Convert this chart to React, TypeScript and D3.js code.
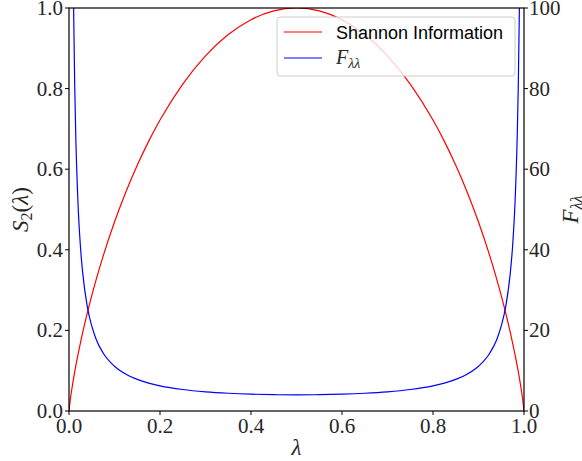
import React from "react";
import * as d3 from "d3";

// Sampled values of the binary entropy S2(λ) and the Fisher information F_λλ
const lambdas = [
  0, 0.0025, 0.005, 0.0075, 0.01, 0.0125, 0.015, 0.02, 0.025, 0.03, 0.04, 0.05, 0.06, 0.075,
  0.1, 0.125, 0.15, 0.175, 0.2, 0.25, 0.3, 0.35, 0.4, 0.45, 0.5,
  0.55, 0.6, 0.65, 0.7, 0.75, 0.8, 0.825, 0.85, 0.875, 0.9, 0.925, 0.94, 0.95, 0.96, 0.97,
  0.975, 0.98, 0.985, 0.9875, 0.99, 0.9925, 0.995, 0.9975, 1,
];
const shannon = [
  0, 0.0252, 0.0454, 0.0637, 0.0808, 0.0969, 0.1124, 0.1414, 0.1687, 0.1944, 0.2423, 0.2864, 0.3274, 0.3843,
  0.469, 0.5436, 0.6098, 0.669, 0.7219, 0.8113, 0.8813, 0.9341, 0.971, 0.9928, 1.0,
  0.9928, 0.971, 0.9341, 0.8813, 0.8113, 0.7219, 0.669, 0.6098, 0.5436, 0.469, 0.3843, 0.3274, 0.2864, 0.2423, 0.1944,
  0.1687, 0.1414, 0.1124, 0.0969, 0.0808, 0.0637, 0.0454, 0.0252, 0,
];
const fisher: (number | null)[] = [
  null, 401.0, 201.0, 134.3, 101.0, 81.0, 67.7, 51.0, 41.0, 34.4, 26.0, 21.1, 17.7, 14.4,
  11.1, 9.14, 7.84, 6.93, 6.25, 5.33, 4.76, 4.4, 4.17, 4.04, 4.0,
  4.04, 4.17, 4.4, 4.76, 5.33, 6.25, 6.93, 7.84, 9.14, 11.1, 14.4, 17.7, 21.1, 26.0, 34.4,
  41.0, 51.0, 67.7, 81.0, 101.0, 134.3, 201.0, 401.0, null,
];
const xTicks = [0, 0.2, 0.4, 0.6, 0.8, 1.0];
const leftTicks = [0, 0.2, 0.4, 0.6, 0.8, 1.0];
const rightTicks = [0, 20, 40, 60, 80, 100];

const W = 582;
const H = 461;
const M = { left: 69, right: 524, top: 8, bottom: 411 };
const SERIF = "'Liberation Serif', 'DejaVu Serif', serif";
const SANS = "'Liberation Sans', Arial, sans-serif";
const TXT = "#262626";

export default function App() {
  const x = d3.scaleLinear().domain([0, 1]).range([M.left, M.right]);
  const yL = d3.scaleLinear().domain([0, 1]).range([M.bottom, M.top]);
  const yR = d3.scaleLinear().domain([0, 100]).range([M.bottom, M.top]);

  const idx = lambdas.map((_, i) => i);
  const sLine = d3
    .line<number>()
    .x((i) => x(lambdas[i]))
    .y((i) => yL(shannon[i]))
    .curve(d3.curveMonotoneX)(idx);
  const fLine = d3
    .line<number>()
    .defined((i) => fisher[i] != null)
    .x((i) => x(lambdas[i]))
    .y((i) => yR(fisher[i] as number))
    .curve(d3.curveMonotoneX)(idx);

  const fmt = d3.format(".1f");

  return (
    <svg width={W} height={H} style={{ position: "absolute", left: 0, top: 0 }}>
      <defs>
        <clipPath id="plot-clip">
          <rect x={M.left} y={M.top} width={M.right - M.left} height={M.bottom - M.top} />
        </clipPath>
      </defs>
      <rect width={W} height={H} fill="#fff" />

      <g clipPath="url(#plot-clip)" fill="none" strokeWidth={1.2}>
        <path d={sLine ?? ""} stroke="#ff0000" />
        <path d={fLine ?? ""} stroke="#0000ff" />
      </g>

      {/* frame */}
      <rect
        x={M.left}
        y={M.top}
        width={M.right - M.left}
        height={M.bottom - M.top}
        fill="none"
        stroke="#000"
        strokeWidth={1.2}
      />

      {/* bottom axis */}
      {xTicks.map((t) => (
        <g key={"x" + t}>
          <line x1={x(t)} x2={x(t)} y1={M.bottom} y2={M.bottom + 4} stroke="#000" />
          <text
            x={x(t)}
            y={M.bottom + 22}
            textAnchor="middle"
            fontFamily={SERIF}
            fontSize={21}
            fill={TXT}
          >
            {fmt(t)}
          </text>
        </g>
      ))}

      {/* left axis */}
      {leftTicks.map((t) => (
        <g key={"l" + t}>
          <line x1={M.left - 4} x2={M.left} y1={yL(t)} y2={yL(t)} stroke="#000" />
          <text
            x={M.left - 6}
            y={yL(t) + 7}
            textAnchor="end"
            fontFamily={SERIF}
            fontSize={21}
            fill={TXT}
          >
            {fmt(t)}
          </text>
        </g>
      ))}

      {/* right axis */}
      {rightTicks.map((t) => (
        <g key={"r" + t}>
          <line x1={M.right} x2={M.right + 4} y1={yR(t)} y2={yR(t)} stroke="#000" />
          <text
            x={M.right + 5}
            y={yR(t) + 7}
            textAnchor="start"
            fontFamily={SERIF}
            fontSize={21}
            fill={TXT}
          >
            {t}
          </text>
        </g>
      ))}

      {/* axis labels */}
      <text
        x={(M.left + M.right) / 2}
        y={455}
        textAnchor="middle"
        fontFamily={SERIF}
        fontStyle="italic"
        fontSize={23}
        fill={TXT}
      >
        λ
      </text>
      <text
        transform={`translate(28, ${(M.top + M.bottom) / 2}) rotate(-90)`}
        textAnchor="middle"
        fontFamily={SERIF}
        fontSize={23}
        fill={TXT}
      >
        <tspan fontStyle="italic">S</tspan>
        <tspan fontSize={16} dy={4}>2</tspan>
        <tspan dy={-4}>(</tspan>
        <tspan fontStyle="italic">λ</tspan>
        <tspan>)</tspan>
      </text>
      <text
        transform={`translate(578, ${(M.top + M.bottom) / 2}) rotate(-90)`}
        textAnchor="middle"
        fontFamily={SERIF}
        fontSize={23}
        fill={TXT}
      >
        <tspan fontStyle="italic">F</tspan>
        <tspan fontStyle="italic" fontSize={16} dy={4}>λλ</tspan>
      </text>

      {/* legend */}
      <g>
        <rect
          x={277}
          y={17}
          width={238}
          height={59}
          rx={3}
          fill="#fff"
          fillOpacity={0.8}
          stroke="#cccccc"
          strokeWidth={1}
        />
        <line x1={284} x2={322} y1={32} y2={32} stroke="#ff0000" strokeWidth={1.2} />
        <text x={336} y={38.5} fontFamily={SANS} fontSize={18} fill="#000">
          Shannon Information
        </text>
        <line x1={284} x2={322} y1={58} y2={58} stroke="#0000ff" strokeWidth={1.2} />
        <text x={336} y={64} fontFamily={SERIF} fontSize={20} fill={TXT}>
          <tspan fontStyle="italic">F</tspan>
          <tspan fontStyle="italic" fontSize={14} dy={4}>λλ</tspan>
        </text>
      </g>
    </svg>
  );
}
